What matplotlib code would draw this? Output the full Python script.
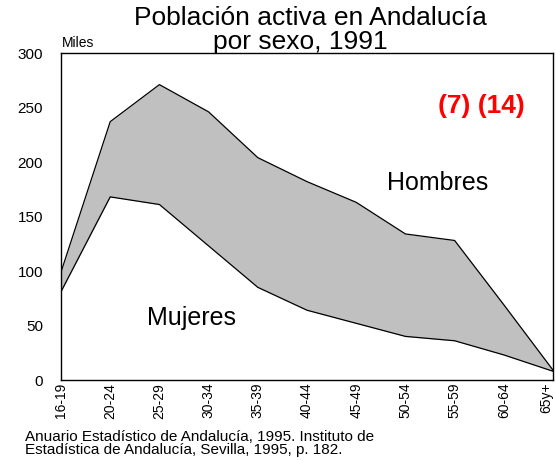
import numpy as np
import matplotlib.pyplot as plt

plt.rcParams['font.family'] = ['Liberation Sans', 'DejaVu Sans']

grupos = ['16-19', '20-24', '25-29', '30-34', '35-39', '40-44',
          '45-49', '50-54', '55-59', '60-64', '65y+']
hombres = [99, 237, 271, 246, 204, 182, 163, 134, 128, 69, 9]
mujeres = [81, 168, 161, 123, 85, 64, 52, 40, 36, 23, 8]

fig = plt.figure(figsize=(5.56, 4.61), dpi=100)
ax = fig.add_axes([0.1097, 0.1757, 0.885, 0.7093])

x = np.arange(len(grupos))
ax.fill_between(x, mujeres, hombres, color='#c0c0c0', linewidth=0)
ax.plot(x, hombres, color='black', linewidth=0.9)
ax.plot(x, mujeres, color='black', linewidth=0.9)

ax.set_xlim(0, len(grupos) - 1)
ax.set_ylim(0, 300)
ax.set_yticks(range(0, 301, 50))
ax.set_xticks(x)
ax.set_xticklabels(grupos, rotation=90, fontsize=10)
ax.get_xticklabels()[-1].set_horizontalalignment('right')
ax.tick_params(axis='x', length=0, pad=2)
ax.tick_params(axis='y', length=0, labelsize=11, pad=13)
for s in ax.spines.values():
    s.set_linewidth(1.0)

ax.text(7.66, 181, 'Hombres', fontsize=18, ha='center', va='center')
ax.text(2.66, 57, 'Mujeres', fontsize=18, ha='center', va='center')
ax.text(8.54, 251, '(7) (14)', fontsize=19, color='#ff0000', fontweight='bold',
        ha='center', va='center')

fig.text(0.558, 0.961, 'Población activa en Andalucía', fontsize=19,
         ha='center', va='center')
fig.text(0.54, 0.909, 'por sexo, 1991', fontsize=19, ha='center', va='center')
fig.text(0.1115, 0.906, 'Miles', fontsize=10, ha='left', va='center')
fig.text(0.045, 0.038, 'Anuario Estadístico de Andalucía, 1995. Instituto de\n'
         'Estadística de Andalucía, Sevilla, 1995, p. 182.',
         fontsize=11, ha='left', va='center', linespacing=0.9)

fig.savefig('out.png', dpi=100)
